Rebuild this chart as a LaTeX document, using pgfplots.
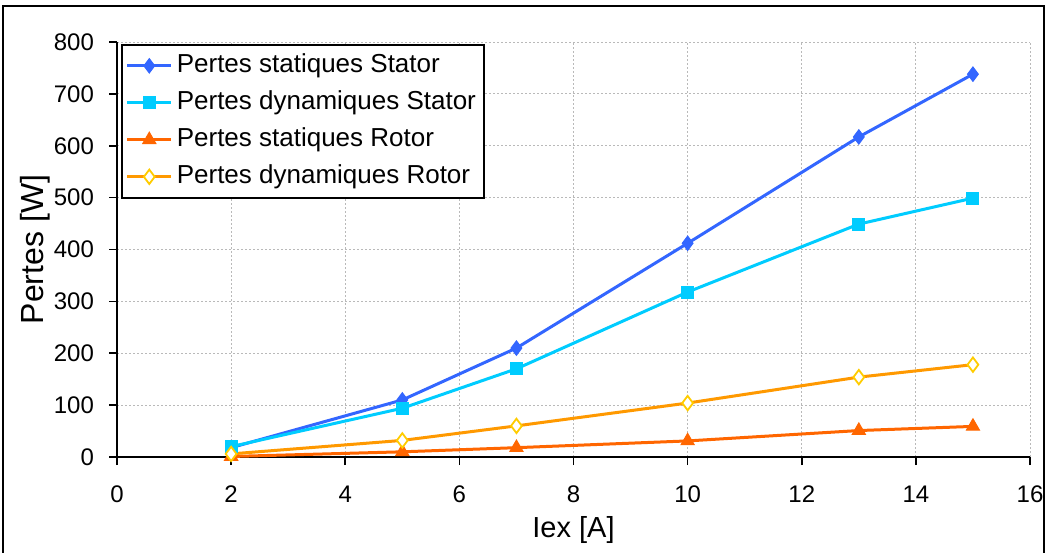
\documentclass[border=0pt]{standalone}
\usepackage{fontspec}
\setmainfont{Liberation Sans}
\usepackage{pgfplots}
\pgfplotsset{compat=1.18}
\definecolor{cStatS}{RGB}{51,102,255}
\definecolor{cDynS}{RGB}{0,204,255}
\definecolor{cStatR}{RGB}{255,102,0}
\definecolor{cDynR}{RGB}{255,153,0}
\definecolor{cDynRm}{RGB}{255,204,0}
\begin{document}
\begin{tikzpicture}
\useasboundingbox (-58.5pt,-47.5pt) rectangle (465pt,228.5pt);
\draw[line width=1pt] (-57pt,-50pt) -- (-57pt,225.5pt) -- (463.5pt,225.5pt) -- (463.5pt,-50pt);
\begin{axis}[
  at={(0pt,0pt)}, anchor=south west,
  scale only axis, width=456.5pt, height=207.5pt,
  xmin=0, xmax=16, ymin=0, ymax=800,
  xtick={0,2,...,16}, ytick={0,100,...,800},
  axis lines=left, axis line style={-, black, line width=1pt},
  tick align=outside, major tick length=4pt,
  tick style={black, line width=0.8pt},
  grid=major, grid style={gray!55, line width=0.5pt, dash pattern=on 1pt off 1pt},
  /pgf/number format/assume math mode=true,
  ticklabel style={font=\fontsize{12}{14}\selectfont},
  xticklabel style={yshift=-7pt},
  yticklabel style={xshift=-4pt},
  xlabel={Iex [A]}, ylabel={Pertes [W]},
  xlabel style={font=\fontsize{14.5}{16}\selectfont, at={(axis description cs:0.5,0)}, anchor=center, yshift=-36.5pt},
  ylabel style={font=\fontsize{16}{18}\selectfont, at={(axis description cs:0,0.5)}, anchor=center, yshift=41pt},
  legend style={at={(rel axis cs:0,1)}, anchor=north west, xshift=2pt, yshift=-1pt,
    draw=black, line width=0.8pt, fill=white,
    font=\fontsize{13}{15}\selectfont, row sep=1.5pt, inner sep=2pt,
    nodes={inner sep=2pt, text height=10pt, text depth=3pt}},
  legend cell align=left,
  legend image code/.code={\draw[mark repeat=2,mark phase=2] plot coordinates {(0pt,0pt) (11pt,0pt) (22pt,0pt)};},
  every axis plot/.append style={line width=1.5pt},
]
\addplot[cStatS, mark=diamond*, mark size=3.6pt, mark options={solid, fill=cStatS, line width=0.5pt}] coordinates {
(2,18) (5,110) (7,210) (10,412) (13,617) (15,738)};
\addlegendentry{Pertes statiques Stator}
\addplot[cDynS, mark=square*, mark size=3pt, mark options={solid, fill=cDynS, line width=0.5pt}] coordinates {
(2,20) (5,94) (7,170) (10,318) (13,449) (15,499)};
\addlegendentry{Pertes dynamiques Stator}
\addplot[cStatR, mark=triangle*, mark size=3.8pt, mark options={solid, fill=cStatR, line width=0.5pt}] coordinates {
(2,1) (5,10) (7,18) (10,31) (13,51) (15,59)};
\addlegendentry{Pertes statiques Rotor}
\addplot[cDynR, mark=diamond*, mark size=3.6pt, mark options={solid, fill=white, draw=cDynRm, line width=0.9pt}] coordinates {
(2,6) (5,32) (7,60) (10,104) (13,154) (15,178)};
\addlegendentry{Pertes dynamiques Rotor}
\end{axis}
\end{tikzpicture}
\end{document}
